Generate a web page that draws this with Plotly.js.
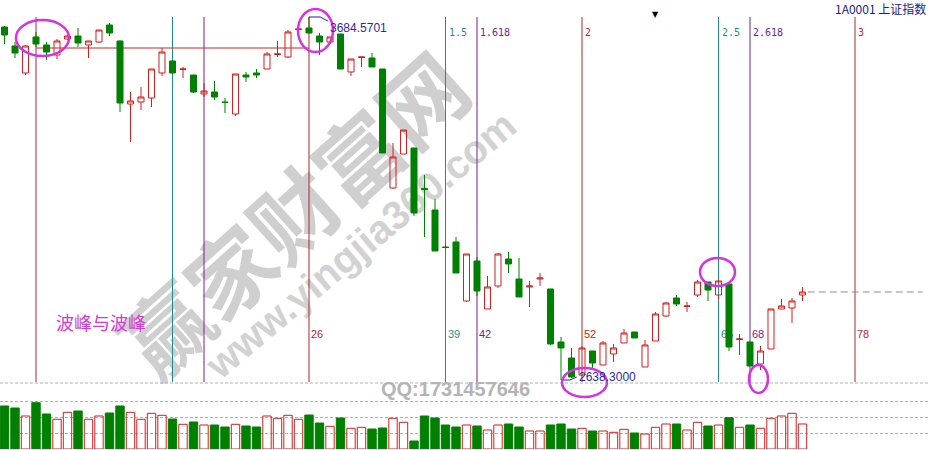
<!DOCTYPE html>
<html><head><meta charset="utf-8">
<script src="https://cdn.plot.ly/plotly-3.0.1.min.js"></script>
<style>
html,body{margin:0;padding:0;background:#fff;}
#wrap{position:relative;width:930px;height:450px;overflow:hidden;}
#bg,#chart{position:absolute;left:0;top:0;width:930px;height:450px;}
</style></head><body>
<div id="wrap"><div id="bg"></div><div id="chart"></div></div>
<script>
// ---- data (Shanghai Composite 1A0001, daily bars, index counted from first wave top) ----
const barIdx = [-3,-2,-1,0,1,2,3,4,5,6,7,8,9,10,11,12,13,14,15,16,17,18,19,20,21,22,23,24,25,26,27,28,29,30,31,32,33,34,35,36,37,38,39,40,41,42,43,44,45,46,47,48,49,50,51,52,53,54,55,56,57,58,59,60,61,62,63,64,65,66,67,68,69,70,71,72,73];
const openP  = [3655.8,3601.0,3523.2,3627.0,3603.9,3575.1,3621.2,3629.8,3603.9,3612.5,3661.5,3615.4,3433.8,3439.6,3451.1,3523.2,3557.8,3533.3,3517.4,3462.7,3468.4,3439.6,3405.0,3517.4,3523.2,3534.7,3576.5,3569.3,3648.6,3652.9,3629.8,3612.5,3635.6,3526.1,3567.9,3566.4,3534.7,3191.7,3289.7,3307.0,3190.3,3128.3,3021.7,3036.1,2866.0,2981.3,2843.0,2909.3,2987.1,2929.4,2906.4,2929.4,2900.6,2747.9,2701.7,2652.7,2721.9,2681.6,2713.3,2745.0,2776.7,2675.8,2750.7,2822.8,2874.7,2850.2,2883.3,2920.8,2883.3,2915.0,2755.1,2747.9,2684.4,2727.7,2843.0,2845.9,2883.3];
const highP  = [3658.7,3612.5,3603.9,3641.4,3612.5,3621.2,3632.7,3652.9,3616.0,3647.1,3667.3,3617.0,3468.4,3482.8,3534.7,3595.2,3558.5,3540.5,3518.0,3494.4,3500.1,3451.1,3520.3,3526.1,3534.7,3583.7,3615.4,3647.1,3655.8,3684.5701,3638.5,3627.0,3636.0,3563.5,3569.3,3580.8,3535.0,3321.4,3358.9,3307.5,3229.2,3160.0,3027.4,3050.5,3001.5,2992.8,2938.1,3004.4,3007.3,2990.0,2923.7,2946.7,2901.0,2762.3,2730.6,2736.3,2722.3,2750.7,2742.1,2785.3,2777.0,2753.6,2834.3,2863.1,2883.3,2863.1,2926.6,2921.2,2929.4,2915.4,2770.9,2748.3,2736.3,2843.0,2871.8,2874.7,2906.4];
const lowP   = [3606.8,3566.4,3517.4,3598.1,3560.7,3563.5,3618.3,3598.1,3566.4,3609.7,3629.8,3410.8,3324.3,3416.5,3425.2,3514.5,3523.2,3508.8,3465.5,3454.0,3445.4,3407.9,3399.3,3497.3,3508.8,3534.7,3569.3,3566.4,3644.2,3635.6,3575.1,3612.5,3534.7,3514.5,3540.5,3540.5,3292.6,3188.8,3289.7,3111.0,3050.5,3010.1,3015.9,2946.7,2863.1,2880.4,2843.0,2903.5,2946.7,2877.6,2848.7,2909.3,2739.2,2638.3,2644.1,2649.9,2670.0,2681.6,2690.2,2745.0,2759.4,2675.8,2750.7,2819.9,2851.6,2834.3,2877.6,2866.0,2871.8,2721.9,2710.4,2678.7,2667.1,2727.7,2843.0,2802.6,2866.0];
const closeP = [3632.7,3580.8,3601.0,3606.8,3583.7,3615.4,3629.8,3609.7,3615.4,3647.1,3638.5,3436.7,3442.5,3454.0,3534.7,3583.7,3523.2,3534.7,3468.4,3471.3,3454.0,3438.2,3520.3,3511.7,3517.4,3578.0,3578.0,3641.4,3650.0,3638.5,3612.5,3627.0,3534.7,3563.5,3569.3,3540.5,3292.6,3281.1,3358.9,3119.7,3187.4,3010.1,3020.2,2946.7,3001.5,2894.9,2906.4,3001.5,2972.7,2877.6,2909.3,2932.3,2742.1,2730.6,2647.0,2730.6,2687.3,2745.0,2730.6,2773.8,2759.4,2739.2,2828.6,2860.3,2857.4,2851.6,2920.8,2897.7,2923.7,2733.4,2756.5,2678.7,2721.9,2843.0,2851.6,2866.0,2892.0];
const volume = [2688,2563,2063,2894,2188,1856,2294,2375,1856,2063,2250,2688,2294,1856,2231,2106,1875,1544,1688,1500,1500,1375,1544,1438,1375,2063,1919,2106,1856,2125,1625,1419,1938,1294,1356,1250,1313,1919,1669,500,2063,1938,1500,1375,1500,1438,1188,1500,1563,1375,1125,1125,1500,1563,1250,1294,1125,1125,1044,1231,1000,938,1356,1563,1563,1188,1669,1438,1500,1956,1356,1500,1294,1919,2063,2231,1563];
const fibLevels = [0,0.5,0.618,1,1.5,1.618,2,2.5,2.618,3];
const fibBars   = [0,13,16,26,39,42,52,65,68,78];
const titleText = '1A0001 上证指数';
const noteText = '波峰与波峰';

// ---- styling / geometry ----
const W = 930, H = 450;
const PX_PER_BAR = 10.5, X0PX = 36;
const xRange = [-X0PX/PX_PER_BAR, (W-X0PX)/PX_PER_BAR];
const px = p => p/W, py = p => 1 - p/H;
const RED = '#d41f1f', GREEN = '#008000';
function fibColor(l){ const f = l - Math.floor(l); if (f===0) return '#b3262b'; if (Math.abs(f-0.5)<1e-9) return '#1f8c8c'; return '#72228a'; }

// ---- background plot: watermark + bottom count labels (drawn under the candles) ----
const bgAnn = [
  {text:'赢家财富网', xref:'paper', yref:'paper', x:px(292), y:py(212), xanchor:'center', yanchor:'middle', showarrow:false, textangle:-42,
   font:{family:'"Noto Sans CJK SC"', size:86, color:'#cfcfcf', weight:'bold'}},
  {text:'www.yingjia360.com', xref:'paper', yref:'paper', x:px(360), y:py(245), xanchor:'center', yanchor:'middle', showarrow:false, textangle:-40,
   font:{family:'"Liberation Sans", Arial', size:40, color:'#d2d2d2', weight:'bold'}}
];
fibLevels.forEach((l,i)=>{
  if (l >= 1) bgAnn.push({text:String(fibBars[i]), xref:'x', yref:'paper', x:fibBars[i], xanchor:'left', xshift:0,
    y:py(334), yanchor:'middle', showarrow:false, font:{family:'"Liberation Sans", Arial', size:11, color:fibColor(l)}});
});
Plotly.newPlot('bg', [], {
  width:W, height:H, margin:{l:0,r:0,t:0,b:0}, paper_bgcolor:'#ffffff', plot_bgcolor:'#ffffff',
  xaxis:{range:xRange, visible:false}, yaxis:{range:[0,1], visible:false}, annotations:bgAnn, showlegend:false
}, {staticPlot:true});

// ---- main plot ----
const up = closeP.map((c,i)=> c >= openP[i]);
const candle = {
  type:'candlestick', x:barIdx, open:openP, high:highP, low:lowP, close:closeP,
  increasing:{line:{color:RED, width:1}, fillcolor:'rgba(255,255,255,0)'},
  decreasing:{line:{color:GREEN, width:1}, fillcolor:GREEN},
  whiskerwidth:0, hoverinfo:'skip', xaxis:'x', yaxis:'y'
};
const vol = {
  type:'bar', x:barIdx, y:volume, xaxis:'x', yaxis:'y2', width:0.8,
  marker:{color: up.map(u=> u ? 'rgba(255,255,255,0)' : GREEN), line:{color: up.map(u=> u ? RED : GREEN), width:1}},
  hoverinfo:'skip'
};

let hiIdx = 0, loIdx = 0;
highP.forEach((h,i)=>{ if (h > highP[hiIdx]) hiIdx = i; });
lowP.forEach((v,i)=>{ if (v < lowP[loIdx]) loIdx = i; });
const hiX = barIdx[hiIdx], hiV = highP[hiIdx], loX = barIdx[loIdx], loV = lowP[loIdx];
const lastX = barIdx[barIdx.length-1], lastC = closeP[closeP.length-1];

const shapes = [];
fibLevels.forEach((l,i)=>{
  shapes.push({type:'line', xref:'x', yref:'paper', x0:fibBars[i], x1:fibBars[i], y0:py(382), y1:py(17),
    line:{color:fibColor(l), width:1}, layer:'below'});
});
// horizontal line from the first wave top to the second
shapes.push({type:'line', xref:'x', yref:'y', x0:fibBars[0], x1:fibBars[3], y0:3595.2, y1:3595.2, line:{color:'#c8262b', width:1}, layer:'below'});
// last close dashed line
shapes.push({type:'line', xref:'x', yref:'y', x0:lastX+0.5, x1:xRange[1]-0.7, y0:lastC, y1:lastC, line:{color:'#8c8c8c', width:1, dash:'7px,4px'}});
// panel separator
shapes.push({type:'line', xref:'paper', yref:'paper', x0:0, x1:1, y0:py(383), y1:py(383), line:{color:'#b0b0b0', width:1, dash:'3px,2px'}});
// high / low leaders
shapes.push({type:'path', xref:'x', yref:'y', path:`M${hiX},${hiV} L${hiX+1.05},${hiV} L${hiX+1.8},${hiV-11.5}`, line:{color:'#22229a', width:1}});
shapes.push({type:'path', xref:'x', yref:'y', path:`M${loX},${loV} L${loX+0.85},${loV} L${loX+1.5},${loV+8.6}`, line:{color:'#22229a', width:1}});
// magenta ellipses
[[16,20,69,56],[298,9,333,52],[562,368,607,397],[700,258,735,286],[749,365,768,393]].forEach(e=>{
  shapes.push({type:'circle', xref:'paper', yref:'paper', x0:px(e[0]), x1:px(e[2]), y0:py(e[3]), y1:py(e[1]),
    line:{color:'#d433e0', width:2.5}});
});

const ann = [];
fibLevels.forEach((l,i)=>{
  if (l >= 1.5) ann.push({text:String(l), xref:'x', yref:'paper', x:fibBars[i], xanchor:'left', xshift:1,
    y:py(32), yanchor:'middle', showarrow:false, font:{family:'"DejaVu Sans Mono", monospace', size:10, color:fibColor(l)}});
});
ann.push({text:hiV.toFixed(4), xref:'x', yref:'y', x:hiX, y:hiV, xanchor:'left', yanchor:'middle', xshift:19, yshift:-11,
  showarrow:false, font:{family:'"Liberation Sans", Arial', size:12, color:'#2a2aa0'}});
ann.push({text:loV.toFixed(4), xref:'x', yref:'y', x:loX, y:loV, xanchor:'left', yanchor:'middle', xshift:16, yshift:3,
  showarrow:false, font:{family:'"Liberation Sans", Arial', size:12, color:'#2a2aa0'}});
ann.push({text:titleText, xref:'paper', yref:'paper', x:px(928), y:py(8), xanchor:'right', yanchor:'middle', showarrow:false,
  font:{family:'"Noto Sans CJK SC"', size:12, color:'#1c1c88'}});
ann.push({text:'▼', xref:'paper', yref:'paper', x:px(655), y:py(15), xanchor:'center', yanchor:'middle', showarrow:false,
  font:{family:'"DejaVu Sans"', size:8, color:'#000000'}});
ann.push({text:noteText, xref:'paper', yref:'paper', x:px(54), y:py(322), xanchor:'left', yanchor:'middle', showarrow:false,
  font:{family:'"Noto Sans CJK SC"', size:18, color:'#d23ad6'}});
ann.push({text:'QQ:1731457646', xref:'paper', yref:'paper', x:px(379), y:py(389), xanchor:'left', yanchor:'middle', showarrow:false,
  font:{family:'"Liberation Sans", Arial', size:20, color:'#b4b4b4', weight:'bold'}});

const layout = {
  width:W, height:H, margin:{l:0,r:0,t:0,b:0},
  paper_bgcolor:'rgba(0,0,0,0)', plot_bgcolor:'rgba(0,0,0,0)',
  showlegend:false, boxgap:0.18,
  xaxis:{range:xRange, visible:false, rangeslider:{visible:false}, fixedrange:true},
  yaxis:{domain:[py(383),1], range:[3733.57-383*2.8823, 3733.57], visible:false},
  yaxis2:{domain:[py(449),py(383)], range:[0,4125], showgrid:true, gridcolor:'#b0b0b0', griddash:'3px,2px',
    tickvals:[1000,2000,3000], showticklabels:false, ticks:'', zeroline:false, showline:false},
  shapes:shapes, annotations:ann
};
Plotly.newPlot('chart', [vol, candle], layout, {staticPlot:true});
</script>
</body></html>
